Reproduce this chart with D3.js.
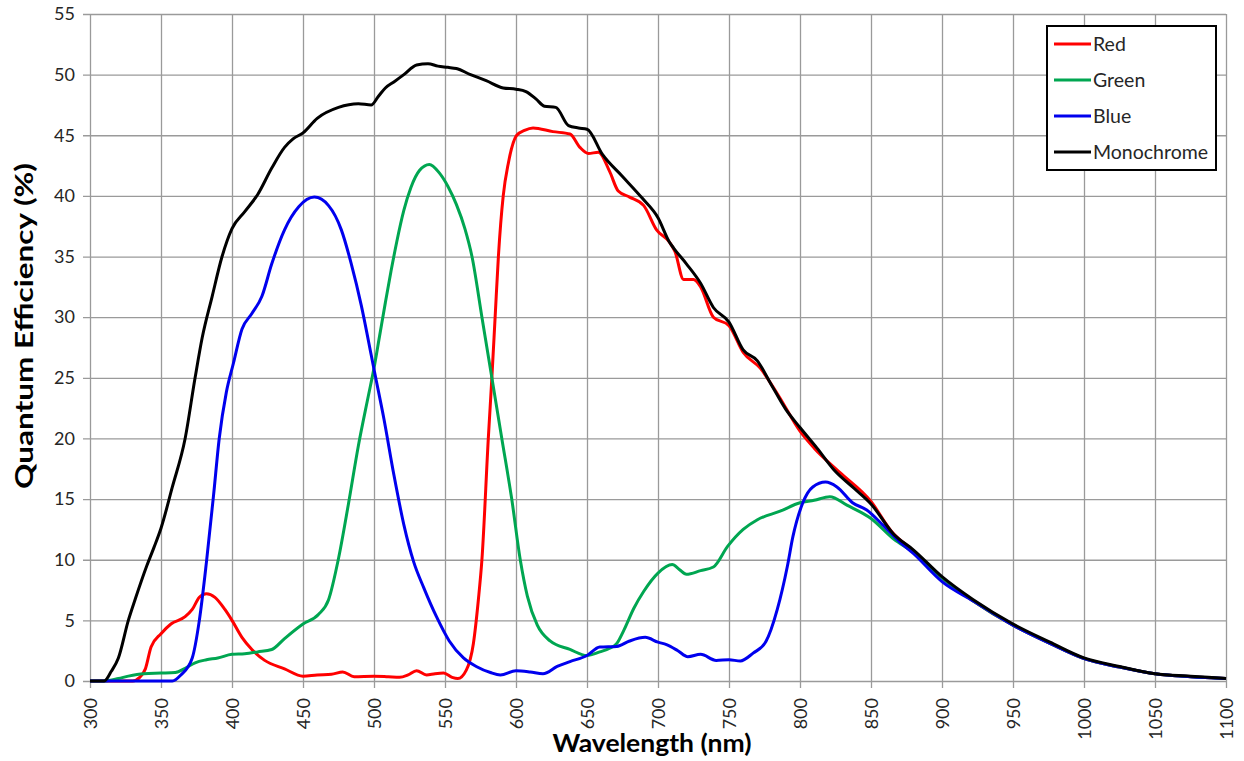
<!DOCTYPE html>
<html>
<head>
<meta charset="utf-8">
<script src="https://cdn.jsdelivr.net/npm/d3@7"></script>
<style>
  body { margin: 0; background: #fff; }
  text { font-family: Lato, "Liberation Sans", sans-serif; }
</style>
</head>
<body>
<div id="container"></div>
<script>
const W = 1244, H = 761;
const margin = {top: 14, right: 18, bottom: 80, left: 90};
const w = W - margin.left - margin.right;
const h = H - margin.top - margin.bottom;

// tick values
const xTicks = [300, 350, 400, 450, 500, 550, 600, 650, 700, 750, 800, 850, 900, 950, 1000, 1050, 1100];
const yTicks = [0, 5, 10, 15, 20, 25, 30, 35, 40, 45, 50, 55];

// series names
const seriesNames = ["Red", "Green", "Blue", "Monochrome"];
const seriesColors = ["#ff0000", "#00a651", "#0000ee", "#000000"];

// [wavelength nm, QE %]
const tail = [[922, 6.6], [950, 4.6], [976, 3.1], [1000, 1.85], [1025, 1.15], [1050, 0.6], [1075, 0.35], [1100, 0.2]];

const red = [[300, 0], [330, 0], [335, 0.3], [339, 1.0], [343, 2.8], [350, 3.9], [357, 4.7], [367, 5.3], [372, 5.9],
  [377, 6.9], [382, 7.2], [388, 6.9], [395, 5.9], [400, 5.0], [407, 3.6], [414, 2.6], [423, 1.7], [437, 1.0],
  [450, 0.4], [460, 0.5], [470, 0.55], [478, 0.75], [486, 0.35], [500, 0.4], [510, 0.35], [518, 0.3], [524, 0.5],
  [530, 0.85], [537, 0.5], [543, 0.6], [549, 0.65], [555, 0.3], [559, 0.2], [565, 0.9], [570, 3.1], [573.5, 6.7],
  [576, 10], [580.5, 20], [583, 25], [585.3, 30], [587.6, 35], [591, 40], [594.6, 42.7], [600.5, 45], [606, 45.4],
  [612, 45.6], [626, 45.3], [638, 45.1], [645, 44], [651, 43.5], [658, 43.6], [666, 42], [672, 40.4], [680, 39.9],
  [690, 39.2], [699, 37.2], [708, 36.2], [712, 35.4], [718, 33.1], [725, 33.1], [730, 32.5], [739, 30], [750, 29.3],
  [760, 27.1], [772, 25.8], [785, 23.5], [800, 20.6], [810, 19.2], [828, 17.2], [850, 14.8], [864, 12.4],
  [880, 10.7], [900, 8.5]].concat(tail);

const green = [[300, 0], [310, 0], [320, 0.2], [327, 0.4], [338, 0.6], [350, 0.65], [360, 0.7], [367, 1.05],
  [374, 1.5], [382, 1.75], [390, 1.9], [400, 2.2], [409, 2.25], [418, 2.4], [428, 2.6], [437, 3.5], [450, 4.7],
  [461, 5.5], [468, 6.7], [475, 10.1], [482, 14.6], [489, 19.4], [496, 23.5], [500, 25.8], [504, 28.5], [508, 31.2],
  [512, 33.8], [516, 36.2], [521, 38.8], [526, 40.7], [532, 42.1], [539, 42.6], [546, 41.9], [552, 40.8], [558, 39.3],
  [564, 37.3], [569, 35], [576, 30],
  [583, 25], [590, 20], [597, 15], [603, 10], [608, 7], [615, 4.6], [624, 3.3], [638, 2.6], [650, 2.1], [659, 2.4],
  [666, 2.7], [671, 3.1], [676, 4.2], [683, 6], [690, 7.4], [700, 8.9], [710, 9.6], [715, 9.2], [720, 8.8],
  [730, 9.1], [739, 9.4], [749, 11.1], [760, 12.5], [770, 13.3], [786, 14], [800, 14.7], [810, 14.9], [821, 15.2],
  [833, 14.5], [850, 13.4], [866, 11.7], [880, 10.6], [900, 8.5]].concat(tail);

const blue = [[300, 0], [358, 0], [364, 0.5], [372, 1.9], [377, 5], [382, 9.8], [387, 15.3], [391, 20], [396, 23.8],
  [401, 26.2], [407, 29], [414, 30.3], [421, 31.7], [428, 34.4], [437, 37.2], [447, 39.1], [458, 39.9], [468, 39.2],
  [477, 37.2], [484, 34.4], [491, 31], [498, 26.9], [500, 25.7], [507, 21.6], [514, 17], [521, 12.9], [528, 9.8],
  [535, 7.7], [544, 5.3], [553, 3.3], [563, 1.9], [572, 1.2], [582, 0.7], [589, 0.5], [600, 0.85], [610, 0.75],
  [619, 0.6], [629, 1.2], [638, 1.6], [650, 2.1], [659, 2.8], [671, 2.85], [680, 3.3], [691, 3.6], [700, 3.2],
  [706, 3.0], [714, 2.5], [721, 2.0], [730, 2.2], [741, 1.7], [750, 1.75], [758, 1.65], [767, 2.3], [776, 3.25],
  [784, 5.9], [791, 9.4], [795, 11.9], [802, 14.7], [809, 16], [818, 16.4], [826, 16], [837, 14.7], [847, 14.1],
  [858, 12.9], [870, 11.5], [880, 10.5], [900, 8.2]].concat(tail);

const mono = [[300, 0], [310, 0], [315, 0.8], [320, 1.9], [327, 5], [332, 6.8], [340, 9.5], [345, 11], [350, 12.6],
  [358, 16], [367, 20], [374, 25], [379, 28.3], [386, 31.7], [393, 35], [400, 37.3], [409, 38.7], [418, 40.1],
  [428, 42.3], [437, 44], [443, 44.7], [450, 45.2], [460, 46.4], [475, 47.3], [489, 47.6], [498, 47.5], [503, 48.2],
  [508, 48.9], [514, 49.4], [521, 50], [530, 50.8], [538, 50.9], [545, 50.7], [552, 50.6], [558, 50.5], [568, 50],
  [579, 49.5], [591, 48.9], [600, 48.8], [607, 48.6], [614, 48], [620, 47.4], [628, 47.3], [637, 45.8], [644, 45.6],
  [650, 45.5], [661, 43.4], [675, 41.6], [689, 39.8], [700, 38.2], [708, 36.2], [711, 35.7], [720, 34.4], [730, 32.8],
  [739, 30.8], [750, 29.6], [760, 27.3], [770, 26.4], [779, 24.6], [790, 22.4], [800, 20.9], [812, 19.2],
  [824, 17.4], [838, 15.9], [850, 14.6], [866, 12.1], [880, 10.8], [900, 8.6], [922, 6.7], [950, 4.7], [976, 3.2],
  [1000, 1.9], [1025, 1.2], [1050, 0.6], [1075, 0.4], [1100, 0.2]];

const seriesData = [red, green, blue, mono];

const svg = d3.select("#container").append("svg")
  .attr("width", W).attr("height", H);
const g = svg.append("g")
  .attr("transform", "translate(" + margin.left + "," + margin.top + ")");

const x = d3.scaleLinear().domain([300, 1100]).range([0, w]);
const y = d3.scaleLinear().domain([0, 55]).range([h, 0]);

const tickOut = 7;

// y axis + horizontal grid
const yAxis = d3.axisLeft(y).tickValues(yTicks).tickSize(-(w + tickOut)).tickPadding(8);
const yG = g.append("g").attr("transform", "translate(" + (-tickOut) + ",0)").call(yAxis);

// x axis + vertical grid
const xAxis = d3.axisBottom(x).tickValues(xTicks).tickFormat(d3.format("d"))
  .tickSize(-(h + tickOut)).tickPadding(0);
const xG = g.append("g").attr("transform", "translate(0," + (h + tickOut) + ")").call(xAxis);

[yG, xG].forEach(a => {
  a.select(".domain").remove();
  a.selectAll(".tick line").attr("stroke", "#9a9a9a").attr("stroke-width", 1.3);
  a.selectAll(".tick text").attr("fill", "#262626").style("font-size", "18px");
});
xG.selectAll(".tick text")
  .attr("transform", "rotate(-90)")
  .attr("text-anchor", "end")
  .attr("x", -10).attr("y", 0).attr("dy", "0.35em");

// curves
const line = d3.line()
  .x(d => x(d[0]))
  .y(d => y(d[1]))
  .curve(d3.curveMonotoneX);

g.selectAll(".series").data(seriesData).enter().append("path")
  .attr("class", "series")
  .attr("fill", "none")
  .attr("stroke", (d, i) => seriesColors[i])
  .attr("stroke-width", 3)
  .attr("stroke-linejoin", "round")
  .attr("d", line);

// axis titles
svg.append("text")
  .attr("x", 652).attr("y", 752)
  .attr("text-anchor", "middle")
  .attr("textLength", 199).attr("lengthAdjust", "spacingAndGlyphs")
  .style("font-size", "25px").style("font-weight", "bold")
  .attr("fill", "#000")
  .text("Wavelength (nm)");

svg.append("text")
  .attr("transform", "translate(33,326) rotate(-90)")
  .attr("text-anchor", "middle")
  .attr("textLength", 326).attr("lengthAdjust", "spacingAndGlyphs")
  .style("font-size", "25px").style("font-weight", "bold")
  .attr("fill", "#000")
  .text("Quantum Efficiency (%)");

// legend
const lg = svg.append("g").attr("transform", "translate(1047,26)");
lg.append("rect")
  .attr("width", 169).attr("height", 144)
  .attr("fill", "#fff").attr("stroke", "#000").attr("stroke-width", 2);
const items = lg.selectAll(".item").data(seriesNames).enter().append("g")
  .attr("transform", (d, i) => "translate(0," + (18 + i * 36) + ")");
items.append("line")
  .attr("x1", 7).attr("x2", 44)
  .attr("stroke", (d, i) => seriesColors[i]).attr("stroke-width", 3);
items.append("text")
  .attr("x", 46).attr("dy", "0.35em")
  .style("font-size", "19.5px").attr("fill", "#262626")
  .text(d => d);
</script>
</body>
</html>
